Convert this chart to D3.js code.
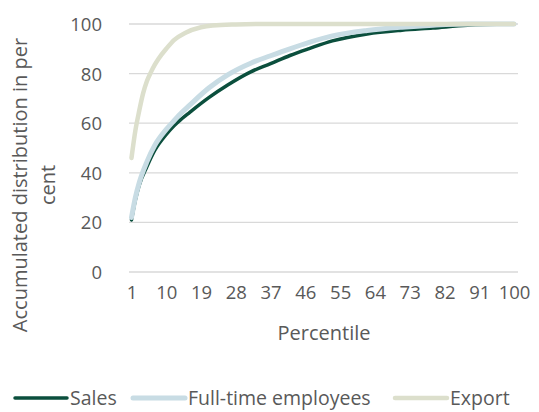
<!DOCTYPE html>
<html>
<head>
<meta charset="utf-8">
<script src="https://cdn.jsdelivr.net/npm/d3@7"></script>
<style>
  html, body { margin: 0; padding: 0; background: #fff; }
  svg text { font-family: "Open Sans", Lato, sans-serif; fill: #595959; }
</style>
</head>
<body>
<svg id="chart" width="539" height="412"></svg>
<script>
// ---- data ----
const yTicks = [0, 20, 40, 60, 80, 100];
const xTickLabels = [1, 10, 19, 28, 37, 46, 55, 64, 73, 82, 91, 100];

const salesPercentiles = [1, 2, 3, 5, 7, 10, 12, 14, 16, 21, 26, 32, 37, 42, 47, 53, 62, 71, 79, 88, 100];
const salesValues      = [21, 29, 35, 42.5, 49, 55.5, 59, 61.8, 64.3, 70.3, 75.5, 80.8, 84, 87.3, 90.1, 93.2, 96, 97.5, 98.4, 99.5, 100];

const employeesPercentiles = [1, 2, 3, 5, 7, 10, 12, 14, 16, 21, 26, 32, 37, 42, 47, 53, 62, 71, 79, 88, 100];
const employeesValues      = [22, 30, 36, 44.5, 51, 57.5, 61, 64.3, 67.2, 74.2, 79.6, 84.3, 87.2, 90, 92.6, 95.2, 97.4, 98.7, 99.5, 100, 100];

const exportPercentiles = [1, 2, 3, 4, 5, 6, 7, 8, 10, 12, 15, 19, 22, 28, 37, 100];
const exportValues      = [46, 57, 65, 72, 77, 80.5, 83.5, 86, 90, 93.5, 96.5, 98.7, 99.4, 99.8, 100, 100];

const seriesNames = ["Sales", "Full-time employees", "Export"];
const seriesColors = ["#0b4f3d", "#c8dce4", "#dcdfcc"];
const seriesWidths = [3.5, 5, 4.5];

// ---- drawing ----
const svg = d3.select("#chart");
const x = d3.scaleLinear().domain([1, 100]).range([131.5, 514]);
const y = d3.scaleLinear().domain([0, 100]).range([272, 24]);
const gridLeft = 129, gridRight = 518;

// gridlines
svg.append("g").selectAll("line").data(yTicks).join("line")
  .attr("x1", gridLeft).attr("x2", gridRight)
  .attr("y1", d => y(d)).attr("y2", d => y(d))
  .attr("stroke", "#d9d9d9").attr("stroke-width", 1.3);

// y axis labels
const yAxis = d3.axisLeft(y).tickValues(yTicks).tickSize(0).tickPadding(0);
const gy = svg.append("g").attr("transform", "translate(102,0)").call(yAxis);
gy.select(".domain").remove();
gy.selectAll("text").style("font-size", "18.5px").attr("fill", "#595959").attr("dy", "0.35em");

// x axis labels
const xAxis = d3.axisBottom(x).tickValues(xTickLabels).tickSize(0).tickPadding(0);
const gx = svg.append("g").attr("transform", "translate(0,285)").call(xAxis);
gx.select(".domain").remove();
gx.selectAll("text").style("font-size", "18.5px").attr("fill", "#595959").attr("dy", "0.75em");

// axis titles
svg.append("text").attr("x", 324).attr("y", 333).attr("dy", "0.35em").attr("text-anchor", "middle")
  .style("font-size", "20px").text("Percentile");
const yt = svg.append("g").attr("transform", "translate(0,185) rotate(-90)");
yt.append("text").attr("x", 0).attr("y", 27).attr("text-anchor", "middle")
  .style("font-size", "20px").text("Accumulated distribution in per");
yt.append("text").attr("x", 0).attr("y", 55).attr("text-anchor", "middle")
  .style("font-size", "20px").text("cent");

// lines
const line = d3.line().x(d => x(d[0])).y(d => y(d[1])).curve(d3.curveMonotoneX);
const series = [
  d3.zip(salesPercentiles, salesValues),
  d3.zip(employeesPercentiles, employeesValues),
  d3.zip(exportPercentiles, exportValues)
];
series.forEach((s, i) => {
  svg.append("path").datum(s).attr("d", line)
    .attr("fill", "none").attr("stroke", seriesColors[i])
    .attr("stroke-width", seriesWidths[i]).attr("stroke-linecap", "round")
    .attr("stroke-linejoin", "round");
});

// legend
const legendX = [15, 133, 395];
const legendY = 398;
seriesNames.forEach((name, i) => {
  svg.append("line").attr("x1", legendX[i]).attr("x2", legendX[i] + 52)
    .attr("y1", legendY).attr("y2", legendY)
    .attr("stroke", seriesColors[i]).attr("stroke-width", seriesWidths[i])
    .attr("stroke-linecap", "round");
  svg.append("text").attr("x", legendX[i] + 55).attr("y", legendY)
    .attr("dy", "0.35em").style("font-size", "19.5px").text(name);
});
</script>
</body>
</html>
